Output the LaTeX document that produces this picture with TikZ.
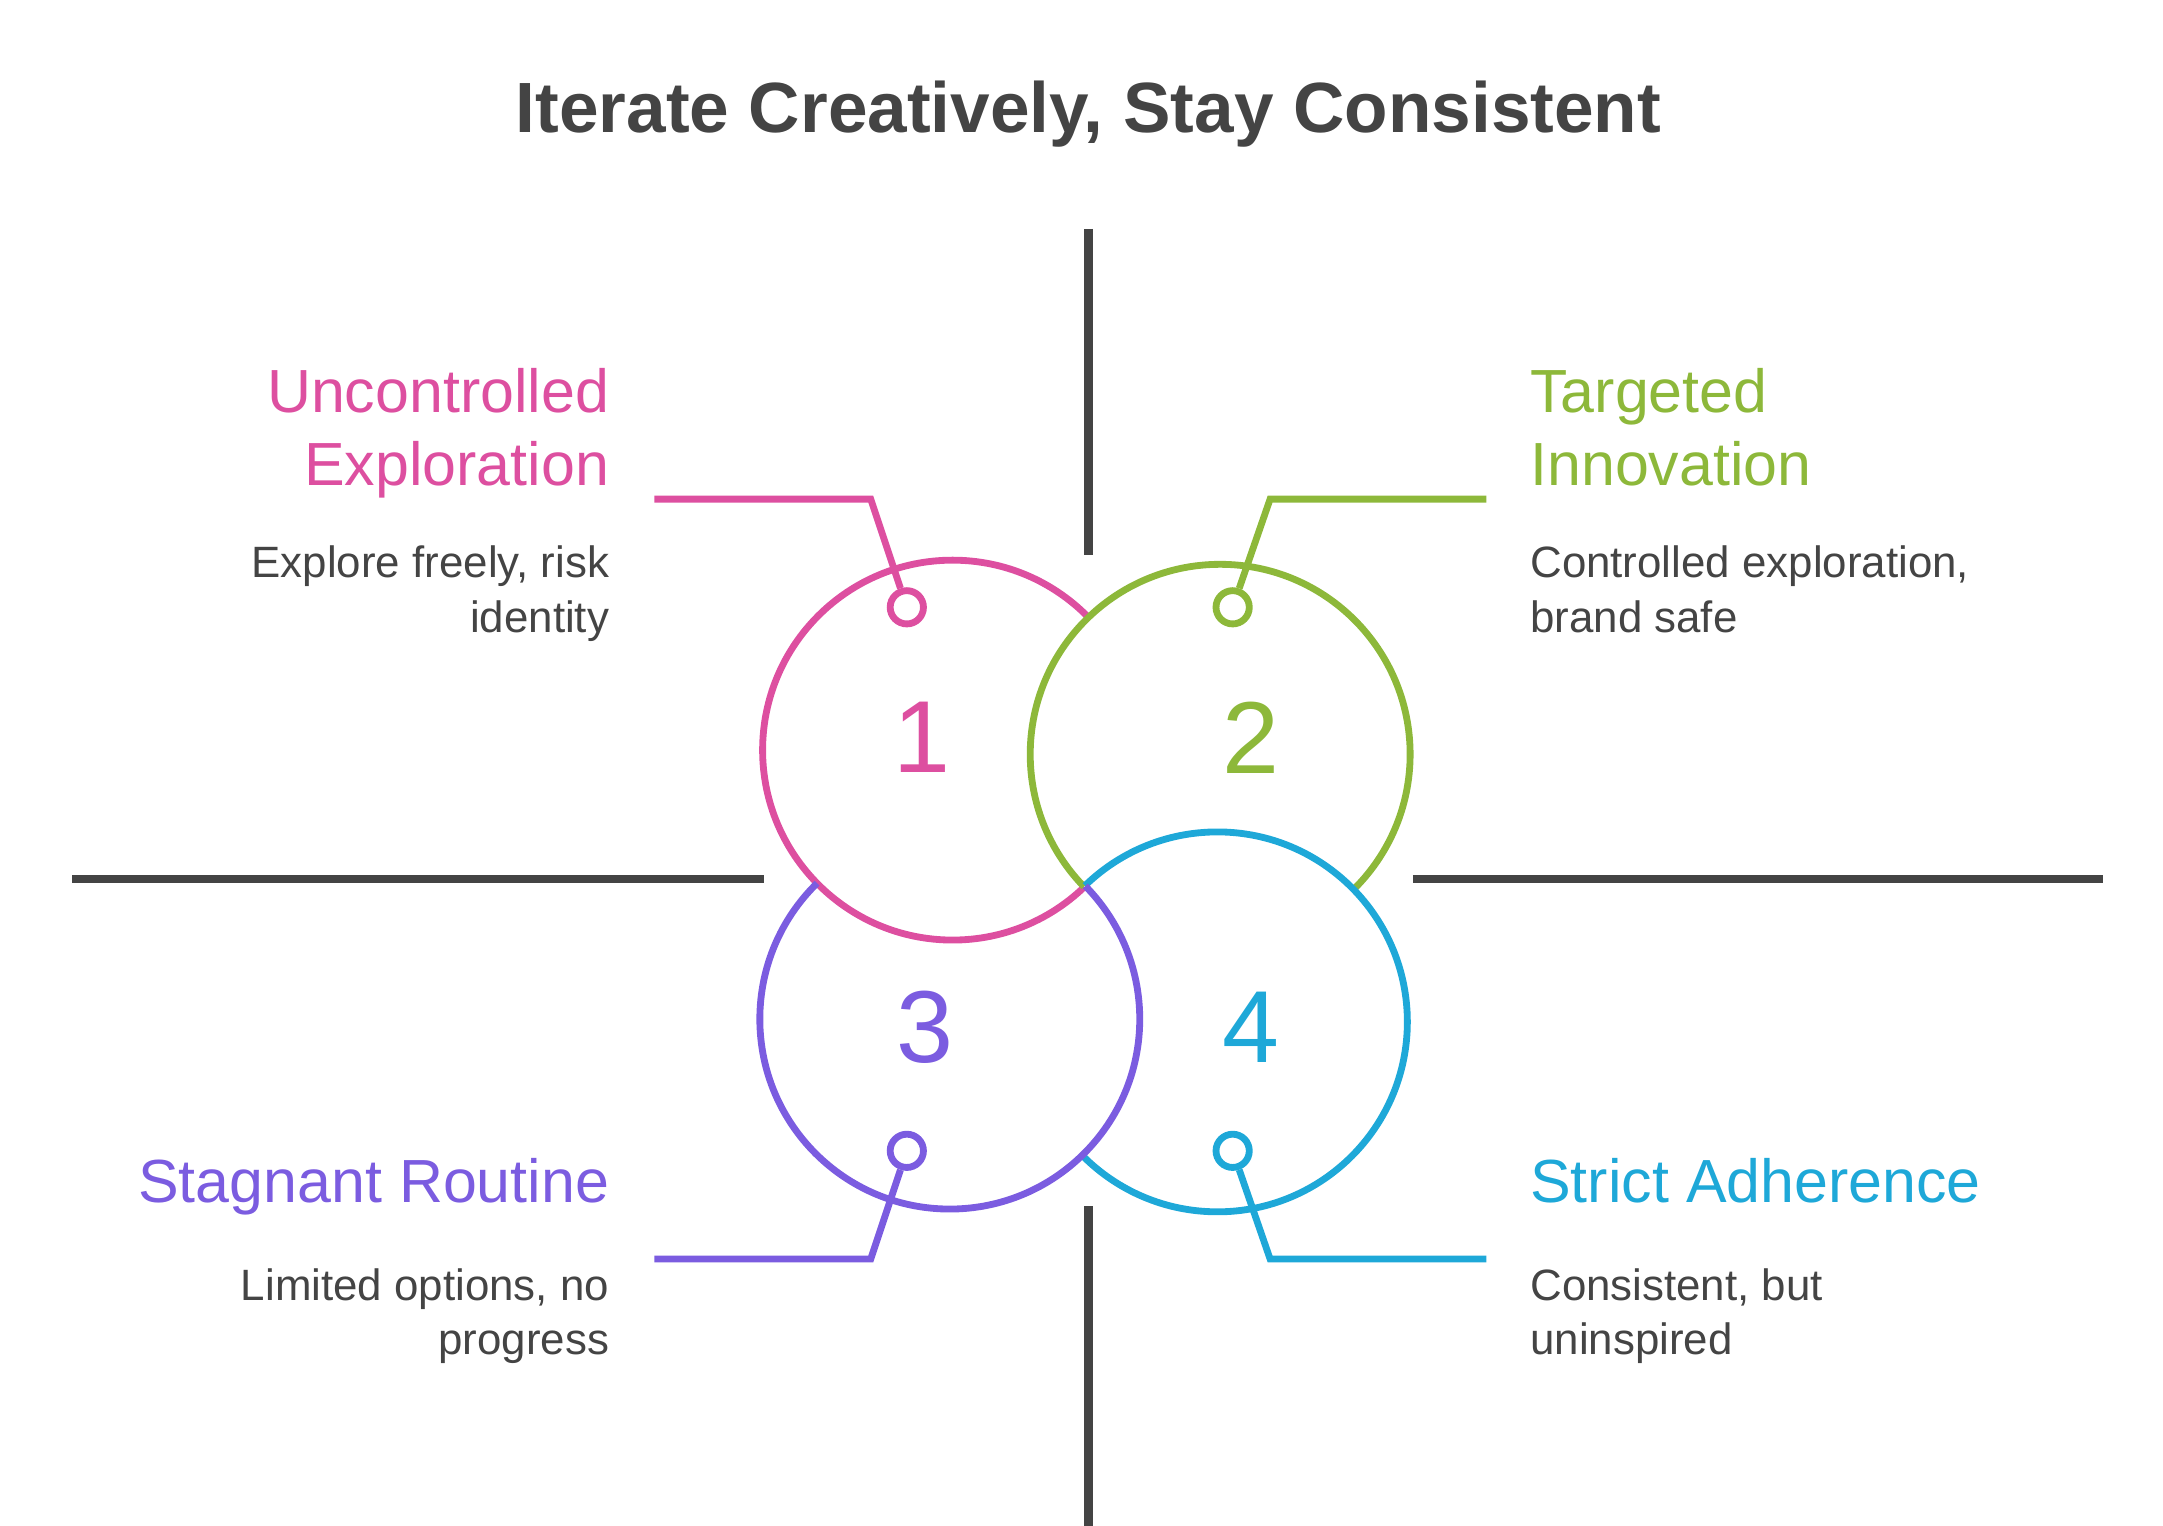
\documentclass[tikz,border=0pt]{standalone}
\usepackage{fontspec}
\setmainfont{Liberation Sans}
\definecolor{ink}{HTML}{444444}
\definecolor{pinkc}{HTML}{DD4FA0}
\definecolor{greenc}{HTML}{8DB83A}
\definecolor{purplec}{HTML}{7B5CE0}
\definecolor{bluec}{HTML}{1EA8D8}
\tikzset{
  ring/.style={line width=1.4pt},
  axis/.style={ink, line width=1.8pt},
  head/.style={inner sep=0pt, font=\fontsize{12.5}{15}\selectfont},
  desc/.style={inner sep=0pt, text=ink, font=\fontsize{9}{11.2}\selectfont},
  num/.style={font=\fontsize{21}{24}\selectfont},
}
\begin{document}
\begin{tikzpicture}
  \useasboundingbox (0,0) rectangle (15.6,11.0);
  \def\r{1.37}
  % title
  \node[text=ink, font=\bfseries\fontsize{14.6}{18}\selectfont] (title) at (7.85,10.18) {Iterate Creatively, Stay Consistent};
  % axes
  \coordinate (vt1) at (7.85,9.35); \coordinate (vt2) at (7.85,7.0);
  \coordinate (vb1) at (7.85,2.3);  \coordinate (vb2) at (7.85,-0.05);
  \coordinate (hl1) at (0.52,4.66); \coordinate (hl2) at (5.51,4.66);
  \coordinate (hr1) at (10.19,4.66); \coordinate (hr2) at (15.17,4.66);
  \draw[axis] (vt1) -- (vt2);
  \draw[axis] (vb1) -- (vb2);
  \draw[axis] (hl1) -- (hl2);
  \draw[axis] (hr1) -- (hr2);
  % circles
  \coordinate (c1) at (6.87,5.59);
  \coordinate (c2) at (8.80,5.56);
  \coordinate (c3) at (6.85,3.65);
  \coordinate (c4) at (8.78,3.63);
  \foreach \me/\over/\col in {c1/c2/pinkc, c2/c4/greenc, c4/c3/bluec, c3/c1/purplec} {
    \begin{scope}[even odd rule]
      \clip (0,0) rectangle (15.6,11.0) (\over) circle (\r);
      \draw[ring, \col] (\me) circle (\r);
    \end{scope}
  }
  \node[num, pinkc] (n1) at (6.65,5.68) {1};
  \node[num, greenc] (n2) at (9.02,5.68) {2};
  \node[num, purplec] (n3) at (6.67,3.59) {3};
  \node[num, bluec] (n4) at (9.02,3.59) {4};
  % connectors
  \node[ring, draw=pinkc, circle, minimum size=0.24cm, inner sep=0pt] (d1) at (6.54,6.62) {};
  \node[ring, draw=greenc, circle, minimum size=0.24cm, inner sep=0pt] (d2) at (8.89,6.62) {};
  \node[ring, draw=purplec, circle, minimum size=0.24cm, inner sep=0pt] (d3) at (6.54,2.70) {};
  \node[ring, draw=bluec, circle, minimum size=0.24cm, inner sep=0pt] (d4) at (8.89,2.70) {};
  \coordinate (e1) at (4.72,7.40); \coordinate (k1) at (6.28,7.40);
  \coordinate (e2) at (10.72,7.40); \coordinate (k2) at (9.16,7.40);
  \coordinate (e3) at (4.72,1.92); \coordinate (k3) at (6.28,1.92);
  \coordinate (e4) at (10.72,1.92); \coordinate (k4) at (9.16,1.92);
  \draw[ring, pinkc] (e1) -- (k1) -- (d1);
  \draw[ring, greenc] (e2) -- (k2) -- (d2);
  \draw[ring, purplec] (e3) -- (k3) -- (d3);
  \draw[ring, bluec] (e4) -- (k4) -- (d4);
  % labels
  \node[head, pinkc, align=right, anchor=north east] (h1) at (4.40,8.35) {Uncontrolled\\Exploration};
  \node[desc, align=right, anchor=north east] (t1) at (4.40,7.07) {Explore freely, risk\\identity};
  \node[head, greenc, align=left, anchor=north west] (h2) at (11.03,8.35) {Targeted\\Innovation};
  \node[desc, align=left, anchor=north west] (t2) at (11.03,7.07) {Controlled exploration,\\brand safe};
  \node[head, purplec, anchor=north east] (h3) at (4.40,2.65) {Stagnant Routine};
  \node[desc, align=right, anchor=north east] (t3) at (4.40,1.86) {Limited options, no\\progress};
  \node[head, bluec, anchor=north west] (h4) at (11.03,2.65) {Strict Adherence};
  \node[desc, align=left, anchor=north west] (t4) at (11.03,1.86) {Consistent, but\\uninspired};
\end{tikzpicture}
\end{document}
